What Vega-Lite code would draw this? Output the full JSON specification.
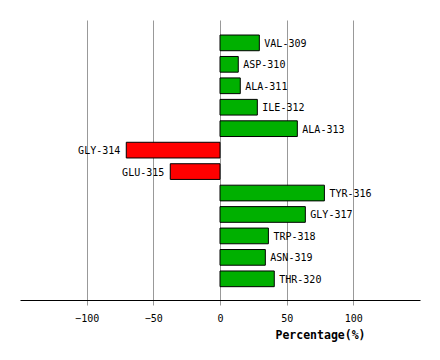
{
  "$schema": "https://vega.github.io/schema/vega-lite/v6.json",
  "width": 400,
  "height": 280,
  "autosize": {"type": "none"},
  "padding": {"left": 20, "top": 20, "right": 20, "bottom": 60},
  "background": "white",
  "config": {"view": {"stroke": null}},
  "data": {
    "values": [
      {"residue": "VAL-309", "pct": 29.5},
      {"residue": "ASP-310", "pct": 13.7},
      {"residue": "ALA-311", "pct": 15.2},
      {"residue": "ILE-312", "pct": 28.0},
      {"residue": "ALA-313", "pct": 58.0},
      {"residue": "GLY-314", "pct": -70.3},
      {"residue": "GLU-315", "pct": -37.3},
      {"residue": "TYR-316", "pct": 78.3},
      {"residue": "GLY-317", "pct": 64.0},
      {"residue": "TRP-318", "pct": 36.3},
      {"residue": "ASN-319", "pct": 34.0},
      {"residue": "THR-320", "pct": 40.7}
    ]
  },
  "encoding": {
    "y": {
      "field": "residue",
      "type": "nominal",
      "sort": null,
      "scale": {"paddingInner": 0.268, "paddingOuter": 0.661, "align": 0.53},
      "axis": null
    }
  },
  "layer": [
    {
      "mark": {"type": "bar", "stroke": "black", "strokeWidth": 1},
      "encoding": {
        "x": {
          "field": "pct",
          "type": "quantitative",
          "scale": {"domain": [-150, 150], "nice": false, "zero": false},
          "axis": {
            "values": [-100, -50, 0, 50, 100],
            "grid": true,
            "gridColor": "#999999",
            "gridWidth": 1,
            "gridOpacity": 1,
            "domainColor": "black",
            "domainWidth": 1,
            "tickColor": "#999999",
            "tickSize": 5,
            "labelFont": "DejaVu Sans Mono",
            "labelFontSize": 10,
            "labelColor": "black",
            "labelPadding": 8,
            "title": "Percentage(%)",
            "titleFont": "DejaVu Sans Mono",
            "titleFontSize": 11.5,
            "titleFontWeight": "bold",
            "titleColor": "black",
            "titleX": 300,
            "titleY": 35,
            "titleAlign": "center",
            "titleBaseline": "middle"
          }
        },
        "x2": {"datum": 0},
        "color": {
          "condition": {"test": "datum.pct < 0", "value": "#FF0000"},
          "value": "#00B000"
        }
      }
    },
    {
      "transform": [{"filter": "datum.pct >= 0"}],
      "mark": {"type": "text", "align": "left", "dx": 5, "dy": 1, "font": "DejaVu Sans Mono", "fontSize": 10, "color": "black", "baseline": "middle"},
      "encoding": {
        "x": {"field": "pct", "type": "quantitative"},
        "text": {"field": "residue"}
      }
    },
    {
      "transform": [{"filter": "datum.pct < 0"}],
      "mark": {"type": "text", "align": "right", "dx": -6, "dy": 1, "font": "DejaVu Sans Mono", "fontSize": 10, "color": "black", "baseline": "middle"},
      "encoding": {
        "x": {"field": "pct", "type": "quantitative"},
        "text": {"field": "residue"}
      }
    }
  ]
}
